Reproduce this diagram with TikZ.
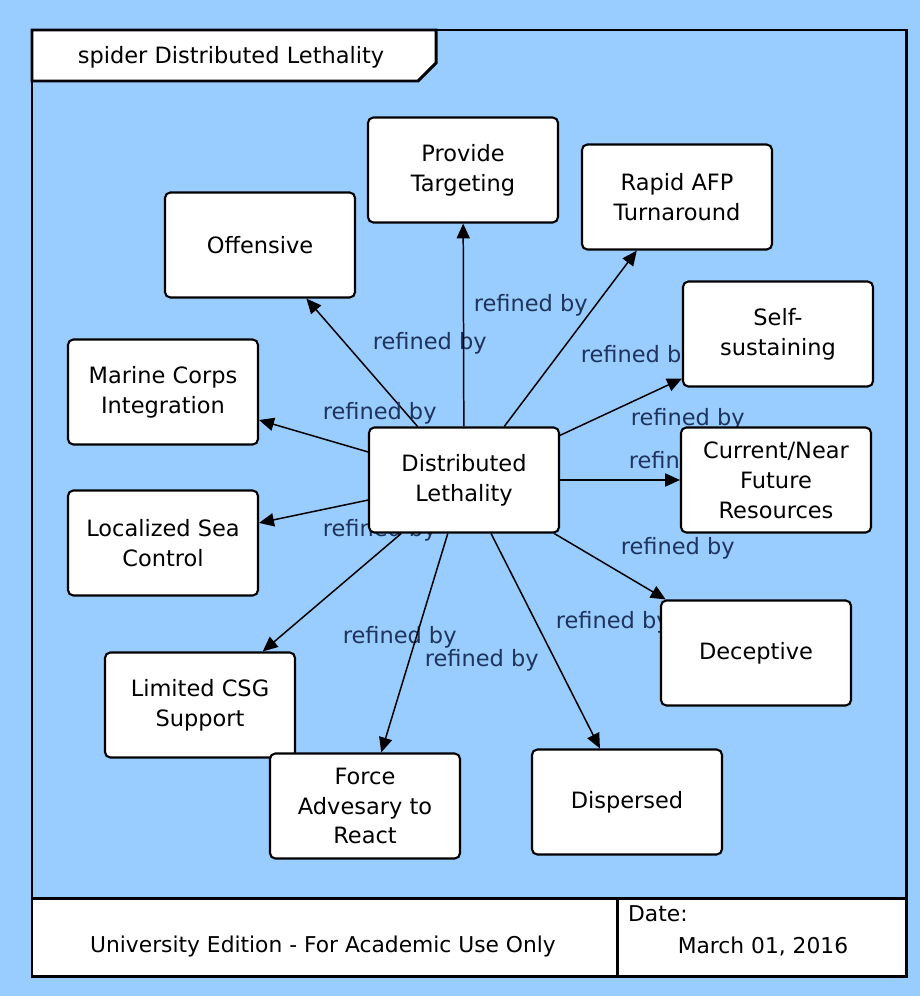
\documentclass[tikz,border=0pt]{standalone}
\usepackage{fontspec}
\setmainfont{DejaVu Sans}
\usetikzlibrary{arrows.meta}
\definecolor{cielo}{RGB}{153,204,255}
\definecolor{tinta}{RGB}{30,52,90}
\pgfdeclarelayer{fondo}
\pgfdeclarelayer{flechas}
\pgfsetlayers{fondo,flechas,main}
\tikzset{
  caja/.style={draw=black, line width=1.2pt, fill=white, rounded corners=3pt,
    minimum width=3.8cm, minimum height=2.1cm, align=center, inner sep=2pt,
    font=\fontsize{12.8}{17}\selectfont},
  refina/.style={draw=black, line width=0.85pt, -{Triangle[length=8.5pt,width=7.5pt]}},
  etq/.style={anchor=west, text=tinta, inner sep=0pt, font=\fontsize{12.8}{15}\selectfont},
  marco/.style={draw=black, line width=1.7pt},
}
\begin{document}
\begin{tikzpicture}[x=0.02cm, y=-0.02cm]
    % Fondo y marco
    \begin{pgfonlayer}{fondo}
        \fill[cielo] (0,0) rectangle (920,996);
    \end{pgfonlayer}
    \useasboundingbox (0,0) rectangle (920,996);
    \draw[marco] (32,30) rectangle (906,976);
    % Pestana del titulo
    \draw[marco, fill=white] (32,30) -- (436,30) -- (436,63) -- (418,81) -- (32,81) -- cycle;
    \node[font=\fontsize{12.8}{15}\selectfont] (titulo) at (231,57) {spider Distributed Lethality};
    % Pie
    \draw[marco, fill=white] (32,898) rectangle (906,976);
    \draw[marco] (617,898) -- (617,976);
    \node[font=\fontsize{12.4}{15}\selectfont] (edicion) at (323,946) {University Edition - For Academic Use Only};
    \node[anchor=west, font=\fontsize{12.4}{15}\selectfont] (fecha) at (622,914) {Date:};
    \node[font=\fontsize{12.4}{15}\selectfont] (dia) at (763,946) {March 01, 2016};
    % Cajas
    \node[caja] (dl) at (464,480) {Distributed\\Lethality};
    \node[caja] (prov) at (463,170) {Provide\\Targeting};
    \node[caja] (rapid) at (677,197) {Rapid AFP\\Turnaround};
    \node[caja] (ofen) at (260,245) {Offensive};
    \node[caja] (self) at (778,334) {Self-\\sustaining};
    \node[caja] (marine) at (163,392) {Marine Corps\\Integration};
    \node[caja] (actual) at (776,480) {Current/Near\\Future\\Resources};
    \node[caja] (local) at (163,543) {Localized Sea\\Control};
    \node[caja] (decep) at (756,653) {Deceptive};
    \node[caja] (csg) at (200,705) {Limited CSG\\Support};
    \node[caja] (fuerza) at (365,806) {Force\\Advesary to\\React};
    \node[caja] (disp) at (627,802) {Dispersed};
    % Relaciones
    \begin{pgfonlayer}{flechas}
        \draw[refina] (dl) -- (ofen) node[etq] at (372,343) {refined by};
        \draw[refina] (dl) -- (prov) node[etq] at (473,305) {refined by};
        \draw[refina] (dl) -- (rapid) node[etq] at (580,356) {refined by};
        \draw[refina] (dl) -- (marine) node[etq] at (322,413) {refined by};
        \draw[refina] (dl) -- (self) node[etq] at (630,419) {refined by};
        \draw[refina] (dl) -- (actual) node[etq] at (628,462) {refined by};
        \draw[refina] (dl) -- (local) node[etq] at (322,530) {refined by};
        \draw[refina] (dl) -- (decep) node[etq] at (620,548) {refined by};
        \draw[refina] (dl) -- (csg) node[etq] at (342,637) {refined by};
        \draw[refina] (dl) -- (fuerza) node[etq] at (424,660) {refined by};
        \draw[refina] (dl) -- (disp) node[etq] at (555,622) {refined by};
    \end{pgfonlayer}
\end{tikzpicture}
\end{document}
